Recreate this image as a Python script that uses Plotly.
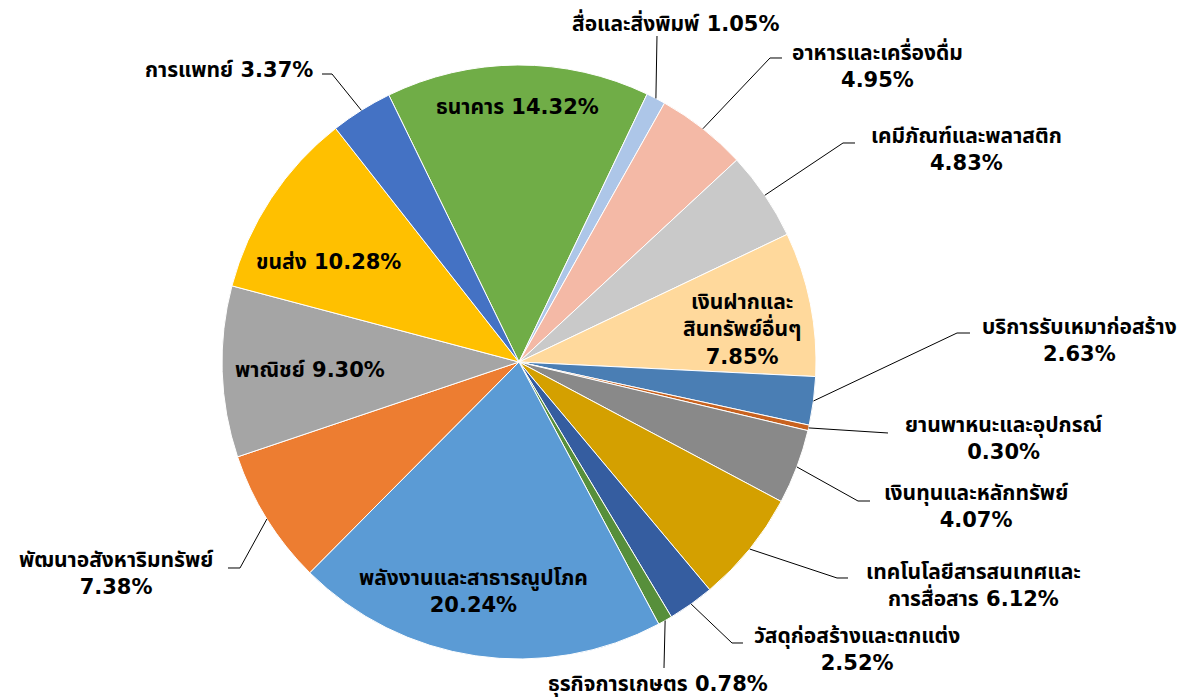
import math
import plotly.graph_objects as go

# ---------------- data ----------------
categories = [
    "ธนาคาร", "สื่อและสิ่งพิมพ์", "อาหารและเครื่องดื่ม", "เคมีภัณฑ์และพลาสติก",
    "เงินฝากและสินทรัพย์อื่นๆ", "บริการรับเหมาก่อสร้าง", "ยานพาหนะและอุปกรณ์",
    "เงินทุนและหลักทรัพย์", "เทคโนโลยีสารสนเทศและการสื่อสาร", "วัสดุก่อสร้างและตกแต่ง",
    "ธุรกิจการเกษตร", "พลังงานและสาธารณูปโภค", "พัฒนาอสังหาริมทรัพย์", "พาณิชย์",
    "ขนส่ง", "การแพทย์",
]
values = [14.32, 1.05, 4.95, 4.83, 7.85, 2.63, 0.30, 4.07, 6.12, 2.52,
          0.78, 20.24, 7.38, 9.30, 10.28, 3.37]
# label text as drawn (line breaks as in the picture)
label_names = [
    "ธนาคาร", "สื่อและสิ่งพิมพ์", "อาหารและเครื่องดื่ม<br>", "เคมีภัณฑ์และพลาสติก<br>",
    "เงินฝากและ<br>สินทรัพย์อื่นๆ<br>", "บริการรับเหมาก่อสร้าง<br>", "ยานพาหนะและอุปกรณ์<br>",
    "เงินทุนและหลักทรัพย์<br>", "เทคโนโลยีสารสนเทศและ<br>การสื่อสาร", "วัสดุก่อสร้างและตกแต่ง<br>",
    "ธุรกิจการเกษตร", "พลังงานและสาธารณูปโภค<br>", "พัฒนาอสังหาริมทรัพย์<br>", "พาณิชย์",
    "ขนส่ง", "การแพทย์",
]

# ---------------- style / layout ----------------
colors = ["#70AD47", "#ADC6E8", "#F4B9A6", "#C9C9C9", "#FFD99C", "#4A7EB4", "#C8621F",
          "#898989", "#D4A000", "#355DA0", "#578F3B", "#5B9BD5", "#ED7D31", "#A5A5A5",
          "#FFC000", "#4472C4"]

W, H = 1201, 698
CX, CY, R = 519, 362, 297    # pie centre / radius in pixels
ROTATION = -26.0

# label centre positions (pixels) and leader elbows (pixels)
label_pos = {
    0: (517, 107), 1: (676, 22), 2: (877, 65), 3: (966, 149), 4: (742, 329),
    5: (1079, 340), 6: (1003, 438), 7: (976, 506), 8: (973, 585), 9: (857, 649),
    10: (658, 684), 11: (473, 591), 12: (116, 573), 13: (310, 370), 14: (328, 262),
    15: (229, 70),
}
leader_pts = {
    1: [(657, 36)],
    2: [(770, 58), (782, 58)],
    3: [(843, 143), (855, 143)],
    5: [(957, 333), (970, 333)],
    6: [(888, 433)],
    7: [(858, 501), (870, 501)],
    8: [(837, 578), (848, 578)],
    9: [(732, 643), (743, 643)],
    10: [(664, 668)],
    12: [(240, 568), (228, 568)],
    15: [(332, 74), (322, 74)],
}

FONT = "DejaVu Sans, Tahoma, 'Noto Sans Thai', sans-serif"


def px(x, y):
    return x / W, 1 - y / H


d_x0, d_y0 = px(CX - R, CY + R)
d_x1, d_y1 = px(CX + R, CY - R)

fig = go.Figure(go.Pie(
    labels=categories,
    values=values,
    sort=False,
    direction="clockwise",
    rotation=ROTATION,
    marker=dict(colors=colors, line=dict(color="white", width=1)),
    textinfo="none",
    hoverinfo="label+percent",
    showlegend=False,
    domain=dict(x=[d_x0, d_x1], y=[d_y0, d_y1]),
))

total = sum(values)
cum = 0.0
annotations = []
shapes = []
for i, v in enumerate(values):
    mid = ROTATION + (cum + v / 2) / total * 360.0
    cum += v
    a = math.radians(mid)
    ax, ay = CX + R * math.sin(a), CY - R * math.cos(a)
    pct = f"{v / total * 100:.2f}%"
    name = label_names[i]
    text = name + pct if name.endswith("<br>") else name + " " + pct
    lx, ly = label_pos[i]
    x, y = px(lx, ly)
    annotations.append(dict(
        x=x, y=y, xref="paper", yref="paper", text="<b>" + text + "</b>",
        showarrow=False, xanchor="center", yanchor="middle", align="center",
        font=dict(family=FONT, size=21, color="black"),
    ))
    if i in leader_pts:
        pts = [(ax, ay)] + leader_pts[i]
        path = "M " + " L ".join(f"{px(p[0], p[1])[0]:.5f},{px(p[0], p[1])[1]:.5f}" for p in pts)
        shapes.append(dict(type="path", path=path, xref="paper", yref="paper",
                           line=dict(color="black", width=1)))

fig.update_layout(
    width=W, height=H,
    margin=dict(l=0, r=0, t=0, b=0),
    paper_bgcolor="white", plot_bgcolor="white",
    annotations=annotations, shapes=shapes,
)
fig.write_html(
    "out.html",
    config={"displayModeBar": False},
    post_script="document.body.style.margin='0';document.documentElement.style.overflow='hidden';",
)
